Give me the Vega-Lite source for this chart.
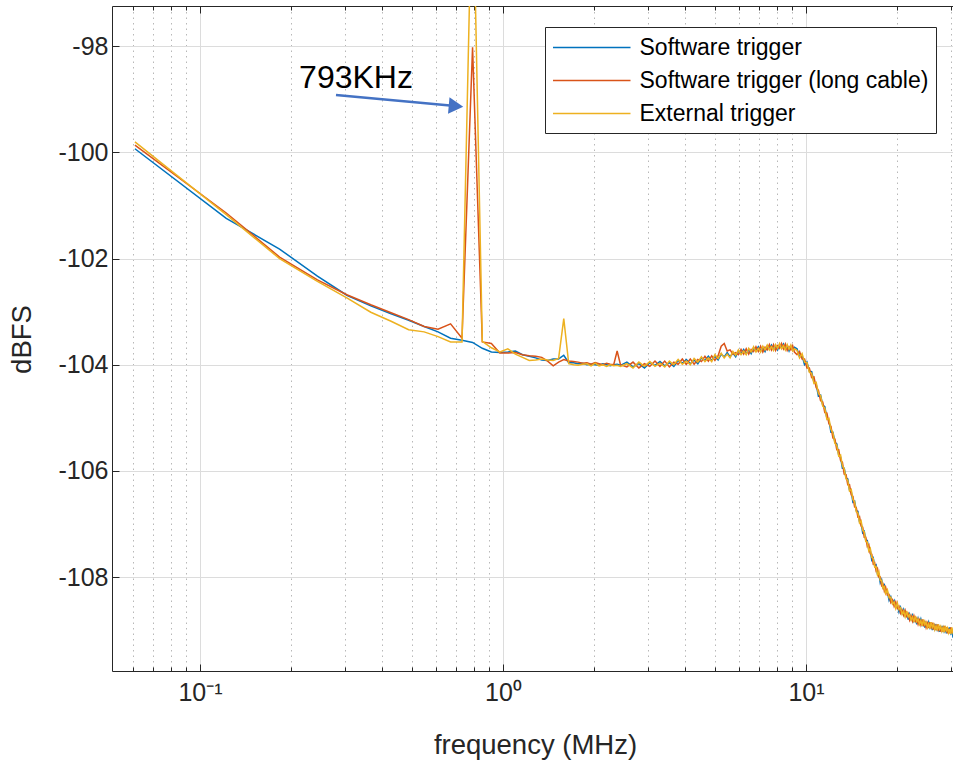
{
"$schema":"https://vega.github.io/schema/vega-lite/v6.json",
"width":841,"height":665,
"autosize":{"type":"none"},
"padding":{"left":112,"top":6,"right":0,"bottom":91},
"background":"white",
"config":{"font":"Liberation Sans","view":{"stroke":null}},
"datasets":{"spec":[
{"f":0.0610,"s":-99.93,"l":-99.86,"e":-99.80},
{"f":0.1221,"s":-101.24,"l":-101.14,"e":-101.17},
{"f":0.1831,"s":-101.82,"l":-101.97,"e":-102.0},
{"f":0.2441,"s":-102.33,"l":-102.40,"e":-102.43},
{"f":0.3052,"s":-102.69,"l":-102.68,"e":-102.74},
{"f":0.3662,"s":-102.89,"l":-102.87,"e":-103.01},
{"f":0.4272,"s":-103.04,"l":-103.02,"e":-103.18},
{"f":0.4883,"s":-103.16,"l":-103.15,"e":-103.34},
{"f":0.5493,"s":-103.28,"l":-103.28,"e":-103.38},
{"f":0.6104,"s":-103.38,"l":-103.33,"e":-103.47},
{"f":0.6714,"s":-103.50,"l":-103.23,"e":-103.57},
{"f":0.7324,"s":-103.54,"l":-103.50,"e":-103.57},
{"f":0.7935,"s":-103.58,"l":-98.02,"e":-94.5},
{"f":0.8545,"s":-103.69,"l":-103.57,"e":-103.56},
{"f":0.9155,"s":-103.76,"l":-103.60,"e":-103.68},
{"f":0.9766,"s":-103.77,"l":-103.78,"e":-103.76},
{"f":1.0376,"s":-103.76,"l":-103.78,"e":-103.70},
{"f":1.0986,"s":-103.74,"l":-103.77,"e":-103.80},
{"f":1.1597,"s":-103.81,"l":-103.81,"e":-103.86},
{"f":1.2207,"s":-103.84,"l":-103.83,"e":-103.92},
{"f":1.2817,"s":-103.87,"l":-103.84,"e":-103.91},
{"f":1.3428,"s":-103.91,"l":-103.86,"e":-103.89},
{"f":1.4038,"s":-103.92,"l":-103.93,"e":-103.91},
{"f":1.4648,"s":-103.89,"l":-104.02,"e":-103.92},
{"f":1.5259,"s":-103.89,"l":-103.95,"e":-103.88},
{"f":1.5869,"s":-103.82,"l":-103.90,"e":-103.13},
{"f":1.6479,"s":-103.96,"l":-103.93,"e":-103.98},
{"f":1.7090,"s":-103.96,"l":-103.94,"e":-104.0},
{"f":1.7700,"s":-103.98,"l":-103.95,"e":-104.01},
{"f":1.8311,"s":-103.97,"l":-103.97,"e":-103.99},
{"f":1.8921,"s":-104.0,"l":-103.96,"e":-103.98},
{"f":1.9531,"s":-103.99,"l":-103.99,"e":-104.02},
{"f":2.0142,"s":-104.0,"l":-103.96,"e":-103.97},
{"f":2.0752,"s":-104.01,"l":-103.98,"e":-104.02},
{"f":2.1362,"s":-103.98,"l":-104.0,"e":-104.0},
{"f":2.1973,"s":-104.0,"l":-103.97,"e":-104.03},
{"f":2.2583,"s":-104.02,"l":-103.99,"e":-104.0},
{"f":2.3193,"s":-104.0,"l":-104.0,"e":-104.02},
{"f":2.3804,"s":-103.99,"l":-103.74,"e":-104.01},
{"f":2.4414,"s":-104.01,"l":-104.0,"e":-104.03},
{"f":2.5635,"s":-103.95,"l":-104.04,"e":-103.98},
{"f":2.6855,"s":-104.04,"l":-103.95,"e":-104.06},
{"f":2.8076,"s":-103.98,"l":-104.06,"e":-103.95},
{"f":2.9297,"s":-104.06,"l":-103.98,"e":-104.03},
{"f":3.0518,"s":-103.96,"l":-104.03,"e":-103.94},
{"f":3.1738,"s":-104.01,"l":-103.93,"e":-104.03},
{"f":3.2959,"s":-103.94,"l":-104.03,"e":-103.97},
{"f":3.4180,"s":-104.02,"l":-103.93,"e":-104.04},
{"f":3.5400,"s":-103.96,"l":-104.04,"e":-103.93},
{"f":3.6621,"s":-104.03,"l":-103.95,"e":-104.0},
{"f":3.7842,"s":-103.92,"l":-103.99,"e":-103.9},
{"f":3.9063,"s":-103.97,"l":-103.89,"e":-103.99},
{"f":4.0283,"s":-103.9,"l":-103.99,"e":-103.93},
{"f":4.1504,"s":-103.98,"l":-103.89,"e":-104.0},
{"f":4.2725,"s":-103.91,"l":-103.99,"e":-103.88},
{"f":4.3945,"s":-103.98,"l":-103.9,"e":-103.95},
{"f":4.5166,"s":-103.87,"l":-103.94,"e":-103.85},
{"f":4.6387,"s":-103.92,"l":-103.84,"e":-103.94},
{"f":4.7607,"s":-103.84,"l":-103.93,"e":-103.87},
{"f":4.8828,"s":-103.92,"l":-103.83,"e":-103.94},
{"f":5.0049,"s":-103.84,"l":-103.92,"e":-103.81},
{"f":5.1270,"s":-103.91,"l":-103.83,"e":-103.88},
{"f":5.2490,"s":-103.8,"l":-103.65,"e":-103.78},
{"f":5.3711,"s":-103.85,"l":-103.6,"e":-103.87},
{"f":5.4932,"s":-103.77,"l":-103.74,"e":-103.8},
{"f":5.6152,"s":-103.85,"l":-103.72,"e":-103.87},
{"f":5.7373,"s":-103.78,"l":-103.8,"e":-103.75},
{"f":5.8594,"s":-103.85,"l":-103.77,"e":-103.82},
{"f":5.9814,"s":-103.74,"l":-103.81,"e":-103.72},
{"f":6.1035,"s":-103.79,"l":-103.71,"e":-103.81},
{"f":6.2256,"s":-103.71,"l":-103.8,"e":-103.74},
{"f":6.3477,"s":-103.79,"l":-103.7,"e":-103.81},
{"f":6.4697,"s":-103.72,"l":-103.8,"e":-103.69},
{"f":6.5918,"s":-103.79,"l":-103.71,"e":-103.76},
{"f":6.7139,"s":-103.68,"l":-103.75,"e":-103.66},
{"f":6.8359,"s":-103.74,"l":-103.66,"e":-103.76},
{"f":6.9580,"s":-103.66,"l":-103.75,"e":-103.69},
{"f":7.0801,"s":-103.74,"l":-103.65,"e":-103.76},
{"f":7.2021,"s":-103.68,"l":-103.76,"e":-103.65},
{"f":7.3242,"s":-103.75,"l":-103.67,"e":-103.72},
{"f":7.4463,"s":-103.65,"l":-103.72,"e":-103.63},
{"f":7.5684,"s":-103.7,"l":-103.62,"e":-103.72},
{"f":7.6904,"s":-103.63,"l":-103.72,"e":-103.66},
{"f":7.8125,"s":-103.71,"l":-103.62,"e":-103.73},
{"f":7.9346,"s":-103.65,"l":-103.73,"e":-103.62},
{"f":8.0566,"s":-103.72,"l":-103.64,"e":-103.69},
{"f":8.1787,"s":-103.62,"l":-103.69,"e":-103.6},
{"f":8.3008,"s":-103.68,"l":-103.6,"e":-103.7},
{"f":8.4229,"s":-103.61,"l":-103.7,"e":-103.64},
{"f":8.5449,"s":-103.7,"l":-103.61,"e":-103.72},
{"f":8.6670,"s":-103.65,"l":-103.73,"e":-103.62},
{"f":8.7891,"s":-103.74,"l":-103.66,"e":-103.71},
{"f":8.9111,"s":-103.65,"l":-103.72,"e":-103.63},
{"f":9.0332,"s":-103.72,"l":-103.64,"e":-103.74},
{"f":9.1553,"s":-103.67,"l":-103.76,"e":-103.7},
{"f":9.3384,"s":-103.70,"l":-103.81,"e":-103.73},
{"f":9.5215,"s":-103.85,"l":-103.75,"e":-103.87},
{"f":9.7046,"s":-103.83,"l":-103.89,"e":-103.79},
{"f":9.8877,"s":-104.0,"l":-103.89,"e":-103.95},
{"f":10.0708,"s":-103.95,"l":-104.06,"e":-103.96},
{"f":10.2539,"s":-104.12,"l":-104.06,"e":-104.14},
{"f":10.4370,"s":-104.13,"l":-104.24,"e":-104.16},
{"f":10.6201,"s":-104.33,"l":-104.23,"e":-104.35},
{"f":10.8032,"s":-104.37,"l":-104.43,"e":-104.33},
{"f":10.9863,"s":-104.59,"l":-104.48,"e":-104.54},
{"f":11.1694,"s":-104.57,"l":-104.68,"e":-104.58},
{"f":11.3525,"s":-104.76,"l":-104.70,"e":-104.78},
{"f":11.5356,"s":-104.79,"l":-104.90,"e":-104.82},
{"f":11.7188,"s":-105.01,"l":-104.91,"e":-105.03},
{"f":11.9019,"s":-105.05,"l":-105.11,"e":-105.01},
{"f":12.0850,"s":-105.27,"l":-105.16,"e":-105.22},
{"f":12.2681,"s":-105.27,"l":-105.38,"e":-105.28},
{"f":12.4512,"s":-105.46,"l":-105.40,"e":-105.48},
{"f":12.6343,"s":-105.49,"l":-105.60,"e":-105.52},
{"f":12.8174,"s":-105.70,"l":-105.60,"e":-105.72},
{"f":13.0005,"s":-105.74,"l":-105.80,"e":-105.70},
{"f":13.1836,"s":-105.95,"l":-105.84,"e":-105.90},
{"f":13.3667,"s":-105.95,"l":-106.06,"e":-105.96},
{"f":13.5498,"s":-106.13,"l":-106.07,"e":-106.15},
{"f":13.7329,"s":-106.15,"l":-106.26,"e":-106.18},
{"f":13.9160,"s":-106.36,"l":-106.26,"e":-106.38},
{"f":14.0991,"s":-106.39,"l":-106.45,"e":-106.35},
{"f":14.2822,"s":-106.59,"l":-106.48,"e":-106.54},
{"f":14.4653,"s":-106.57,"l":-106.68,"e":-106.58},
{"f":14.6484,"s":-106.75,"l":-106.69,"e":-106.77},
{"f":14.8315,"s":-106.76,"l":-106.87,"e":-106.79},
{"f":15.0146,"s":-106.96,"l":-106.86,"e":-106.98},
{"f":15.1978,"s":-106.98,"l":-107.04,"e":-106.94},
{"f":15.3809,"s":-107.17,"l":-107.06,"e":-107.12},
{"f":15.5640,"s":-107.14,"l":-107.25,"e":-107.15},
{"f":15.7471,"s":-107.31,"l":-107.25,"e":-107.33},
{"f":15.9302,"s":-107.31,"l":-107.42,"e":-107.34},
{"f":16.1133,"s":-107.49,"l":-107.39,"e":-107.51},
{"f":16.2964,"s":-107.50,"l":-107.56,"e":-107.46},
{"f":16.4795,"s":-107.68,"l":-107.57,"e":-107.63},
{"f":16.6626,"s":-107.64,"l":-107.75,"e":-107.65},
{"f":16.8457,"s":-107.79,"l":-107.73,"e":-107.81},
{"f":17.0288,"s":-107.77,"l":-107.88,"e":-107.80},
{"f":17.2119,"s":-107.94,"l":-107.84,"e":-107.96},
{"f":17.3950,"s":-107.94,"l":-108.0,"e":-107.90},
{"f":17.5781,"s":-108.11,"l":-108.0,"e":-108.06},
{"f":17.7612,"s":-108.05,"l":-108.16,"e":-108.06},
{"f":17.9443,"s":-108.19,"l":-108.13,"e":-108.21},
{"f":18.1274,"s":-108.15,"l":-108.26,"e":-108.18},
{"f":18.3105,"s":-108.29,"l":-108.19,"e":-108.31},
{"f":18.5547,"s":-108.28,"l":-108.34,"e":-108.24},
{"f":18.7988,"s":-108.44,"l":-108.33,"e":-108.39},
{"f":19.0430,"s":-108.37,"l":-108.48,"e":-108.38},
{"f":19.2871,"s":-108.49,"l":-108.43,"e":-108.51},
{"f":19.5313,"s":-108.44,"l":-108.55,"e":-108.47},
{"f":19.7754,"s":-108.57,"l":-108.47,"e":-108.59},
{"f":20.0195,"s":-108.53,"l":-108.59,"e":-108.49},
{"f":20.2637,"s":-108.66,"l":-108.55,"e":-108.61},
{"f":20.5078,"s":-108.57,"l":-108.68,"e":-108.58},
{"f":20.7520,"s":-108.68,"l":-108.62,"e":-108.70},
{"f":20.9961,"s":-108.61,"l":-108.72,"e":-108.64},
{"f":21.2402,"s":-108.73,"l":-108.63,"e":-108.75},
{"f":21.4844,"s":-108.68,"l":-108.74,"e":-108.64},
{"f":21.7285,"s":-108.80,"l":-108.69,"e":-108.75},
{"f":21.9727,"s":-108.70,"l":-108.81,"e":-108.71},
{"f":22.2168,"s":-108.79,"l":-108.73,"e":-108.81},
{"f":22.4609,"s":-108.72,"l":-108.83,"e":-108.75},
{"f":22.7051,"s":-108.83,"l":-108.73,"e":-108.85},
{"f":22.9492,"s":-108.77,"l":-108.83,"e":-108.73},
{"f":23.1934,"s":-108.89,"l":-108.78,"e":-108.84},
{"f":23.4375,"s":-108.78,"l":-108.89,"e":-108.79},
{"f":23.6816,"s":-108.87,"l":-108.81,"e":-108.89},
{"f":23.9258,"s":-108.79,"l":-108.90,"e":-108.82},
{"f":24.1699,"s":-108.90,"l":-108.80,"e":-108.92},
{"f":24.4141,"s":-108.84,"l":-108.90,"e":-108.80},
{"f":24.6582,"s":-108.95,"l":-108.84,"e":-108.90},
{"f":24.9023,"s":-108.84,"l":-108.95,"e":-108.85},
{"f":25.1465,"s":-108.93,"l":-108.87,"e":-108.95},
{"f":25.3906,"s":-108.85,"l":-108.96,"e":-108.88},
{"f":25.6348,"s":-108.95,"l":-108.85,"e":-108.97},
{"f":25.8789,"s":-108.89,"l":-108.95,"e":-108.85},
{"f":26.1230,"s":-109.0,"l":-108.89,"e":-108.95},
{"f":26.3672,"s":-108.88,"l":-108.99,"e":-108.89},
{"f":26.6113,"s":-108.97,"l":-108.91,"e":-108.99},
{"f":26.8555,"s":-108.89,"l":-109.0,"e":-108.92},
{"f":27.0996,"s":-108.99,"l":-108.89,"e":-109.01},
{"f":27.3438,"s":-108.93,"l":-108.99,"e":-108.89},
{"f":27.5879,"s":-109.03,"l":-108.92,"e":-108.98},
{"f":27.8320,"s":-108.92,"l":-109.03,"e":-108.93},
{"f":28.0762,"s":-109.0,"l":-108.94,"e":-109.02},
{"f":28.3203,"s":-108.92,"l":-109.03,"e":-108.95},
{"f":28.5645,"s":-109.02,"l":-108.92,"e":-109.04},
{"f":28.8086,"s":-108.96,"l":-109.02,"e":-108.92},
{"f":29.0527,"s":-109.06,"l":-108.95,"e":-109.01},
{"f":29.2969,"s":-108.95,"l":-109.06,"e":-108.96},
{"f":29.5410,"s":-109.03,"l":-108.97,"e":-109.05},
{"f":29.7852,"s":-108.95,"l":-109.06,"e":-108.98},
{"f":30.0293,"s":-109.05,"l":-108.95,"e":-109.07},
{"f":30.2734,"s":-108.99,"l":-109.05,"e":-108.95},
{"f":30.5176,"s":-109.12,"l":-108.98,"e":-109.04},
{"f":30.7617,"s":-109.1,"l":-109.09,"e":-108.99}
]},
"layer":[
{
"data":{"name":"spec"},
"transform":[{"fold":["s","l","e"],"as":["series","db"]}],
"mark":{"type":"line","strokeWidth":1.5,"clip":true},
"encoding":{
"x":{"field":"f","type":"quantitative","scale":{"type":"log","domain":[0.05125,30.55],"nice":false},
"axis":{"orient":"bottom","values":[0.06,0.07,0.08,0.09,0.1,0.2,0.3,0.4,0.5,0.6,0.7,0.8,0.9,1,2,3,4,5,6,7,8,9,10,20,30],
"labelExpr":"datum.value == 0.1 ? '10⁻¹' : datum.value == 1 ? '10⁰' : datum.value == 10 ? '10¹' : ''",
"labelFontSize":25,"labelColor":"#262626","labelPadding":16,"labelFlush":false,"labelOverlap":false,
"domainColor":"#262626","domainWidth":1,"tickColor":"#262626",
"tickSize":{"condition":{"test":"datum.value == 0.1 || datum.value == 1 || datum.value == 10","value":-7},"value":-4},
"grid":true,
"gridColor":{"condition":{"test":"datum.value == 0.1 || datum.value == 1 || datum.value == 10","value":"#dcdcdc"},"value":"#b8b8b8"},
"gridDash":{"condition":{"test":"datum.value == 0.1 || datum.value == 1 || datum.value == 10","value":[]},"value":[1.5,4]},
"title":"frequency (MHz)","titleFontSize":27.5,"titleFontWeight":"normal","titleColor":"#262626","titleX":423,"titleY":74,"titleBaseline":"middle","titleAlign":"center"}},
"y":{"field":"db","type":"quantitative","scale":{"domain":[-109.77,-97.24],"nice":false,"zero":false},
"axis":{"values":[-108,-106,-104,-102,-100,-98],"labelExpr":"toString(datum.value)","labelFontSize":25,"labelColor":"#262626","labelPadding":11,
"domainColor":"#262626","tickColor":"#262626","tickSize":-7,"grid":true,"gridColor":"#dcdcdc",
"title":"dBFS","titleFontSize":27.5,"titleFontWeight":"normal","titleColor":"#262626","titleX":-90,"titleY":333,"titleBaseline":"middle","titleAlign":"center","titleAngle":-90}},
"color":{"field":"series","type":"nominal","scale":{"domain":["s","l","e"],"range":["#0072BD","#D95319","#EDB120"]},
"legend":{"orient":"none","legendX":433,"legendY":21,"direction":"vertical","title":null,"fillColor":"white","strokeColor":"#262626",
"padding":7,"rowPadding":7,"labelFontSize":23,"labelColor":"#000000","labelLimit":500,"labelOffset":60.5,
"symbolType":"M -1,0 H 5.2","symbolSize":625,"symbolStrokeWidth":1.5,
"labelExpr":"datum.value == 's' ? 'Software trigger' : datum.value == 'l' ? 'Software trigger (long cable)' : 'External trigger'"}}
}
},
{
"data":{"values":[{"f":0.3273,"v":-98.6,"t":"793KHz"}]},
"mark":{"type":"text","fontSize":32,"color":"#000000","align":"center","baseline":"middle"},
"encoding":{
"x":{"field":"f","type":"quantitative","scale":{"type":"log","domain":[0.05125,30.55],"nice":false},
"axis":{"orient":"top","values":[0.06,0.07,0.08,0.09,0.1,0.2,0.3,0.4,0.5,0.6,0.7,0.8,0.9,1,2,3,4,5,6,7,8,9,10,20,30],"labels":false,"grid":false,"title":null,
"domainColor":"#262626","tickColor":"#262626",
"tickSize":{"condition":{"test":"datum.value == 0.1 || datum.value == 1 || datum.value == 10","value":-7},"value":-4}}},
"y":{"field":"v","type":"quantitative"},
"text":{"field":"t"}
}
},
{
"data":{"values":[{"f1":0.2811,"v1":-98.919,"f2":0.6686,"v2":-99.113}]},
"mark":{"type":"rule","color":"#4472C4","strokeWidth":2.5},
"encoding":{
"x":{"field":"f1","type":"quantitative","axis":null},
"y":{"field":"v1","type":"quantitative"},
"x2":{"field":"f2"},
"y2":{"field":"v2"}
}
},
{
"data":{"values":[{"f":0.6996,"v":-99.126}]},
"mark":{"type":"point","shape":"triangle-right","filled":true,"color":"#4472C4","size":280,"angle":5,"opacity":1},
"encoding":{
"x":{"field":"f","type":"quantitative","axis":null},
"y":{"field":"v","type":"quantitative"}
}
}
],
"resolve":{"axis":{"x":"independent"}}
}
